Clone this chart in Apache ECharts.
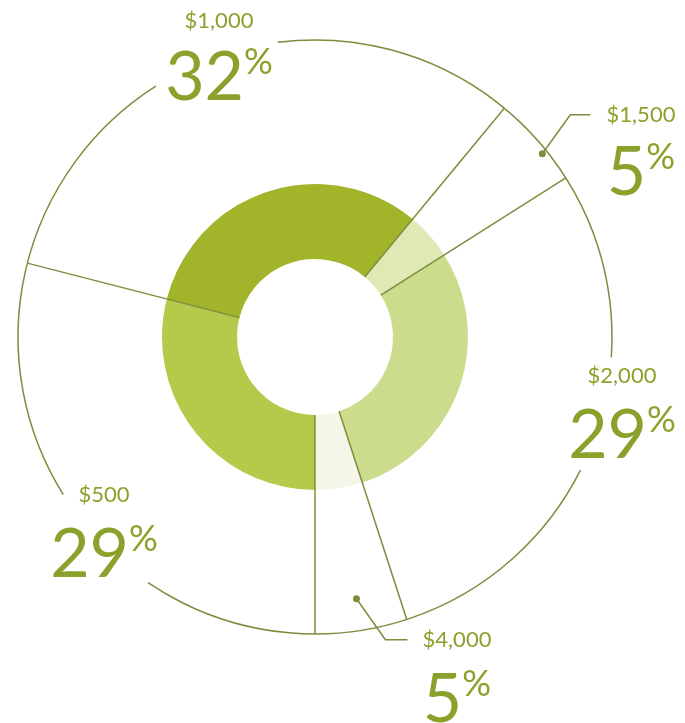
<!DOCTYPE html>
<html><head><meta charset="utf-8">
<script src="https://cdn.jsdelivr.net/npm/echarts@6/dist/echarts.min.js"></script>
<style>html,body{margin:0;padding:0;background:#fff}#c{width:685px;height:723px}</style>
</head><body><div id="c"></div>
<script>
// ---- data ----
const categories = ['$500', '$1,000', '$1,500', '$2,000', '$4,000'];
const shares = [29, 32, 5, 29, 5];

// ---- styles / layout ----
const sliceColors = ['#b5c94b', '#a2b52a', '#dfe9b5', '#cbdc8c', '#f6f6e8'];
const TEXT = '#8aa22c', LINE = '#7f8c3d';
const FONT = 'Lato, "Noto Sans", sans-serif';
const CENTER = [315, 337];
const R_IN = 78, R_OUT = 153, R_RING = 297;
// visible pieces of the outer ring, in angle-axis units (0..100 from bottom, clockwise)
const ringArcs = [[16.1, 41.0], [48.0, 76.1], [82.4, 9.5]];
// label anchor: centre x, top of the small name, top of the big figure
const labelPos = [[104, 484, 521], [219, 10, 44], [641, 104, 139], [622, 365, 402], [457, 629, 666]];
// leader lines for the thin slices: dot radius, angle nudge, elbow offset, horizontal run
const leaders = [null, null, { r: 292, da: 0.7, dx: 28, dy: -39, h: 20 }, null, { r: 265, da: 0, dx: 29, dy: 41, h: 22 }];

const cum = [];
shares.reduce((s, v) => { cum.push(s); return s + v; }, 0);

const chart = echarts.init(document.getElementById('c'), null, { renderer: 'canvas' });

const graphics = [];
categories.forEach((name, i) => {
  const [cx, ny, vy] = labelPos[i];
  graphics.push({
    type: 'text', x: cx, y: ny, silent: true,
    style: { text: name, fill: TEXT, fontSize: 22, fontFamily: FONT, align: 'center', verticalAlign: 'top' }
  });
  graphics.push({
    type: 'text', x: cx, y: vy, silent: true,
    style: {
      text: '{v|' + shares[i] + '}{p|%}', align: 'center', verticalAlign: 'top',
      rich: {
        v: { fontSize: 68, fontFamily: FONT, fill: TEXT, lineHeight: 68 },
        p: { fontSize: 36, fontFamily: FONT, fill: TEXT, lineHeight: 36, verticalAlign: 'top' }
      }
    }
  });
});

chart.setOption({
  animation: false,
  backgroundColor: '#fff',
  polar: { center: CENTER, radius: [0, R_RING] },
  angleAxis: { type: 'value', min: 0, max: 100, startAngle: -90, clockwise: true, show: false,
    axisLine: { show: false }, splitLine: { show: false }, axisLabel: { show: false }, axisTick: { show: false } },
  radiusAxis: { type: 'value', min: 0, max: R_RING, show: false,
    axisLine: { show: false }, splitLine: { show: false }, axisLabel: { show: false }, axisTick: { show: false } },
  graphic: graphics,
  series: [
    {
      type: 'pie', center: CENTER, radius: [R_IN, R_OUT], startAngle: -90, clockwise: true,
      silent: true, label: { show: false }, labelLine: { show: false },
      itemStyle: { borderWidth: 0 },
      data: categories.map((n, i) => ({ name: n, value: shares[i], itemStyle: { color: sliceColors[i] } }))
    },
    {
      type: 'custom', coordinateSystem: 'polar', silent: true, z: 5,
      data: ringArcs.map(a => [R_RING, a[0], a[1]]),
      renderItem: function (params, api) {
        const cs = params.coordSys;
        const p0 = api.coord([api.value(0), api.value(1)]);
        const p1 = api.coord([api.value(0), api.value(2)]);
        return {
          type: 'arc',
          shape: { cx: cs.cx, cy: cs.cy, r: Math.hypot(p0[0] - cs.cx, p0[1] - cs.cy),
            startAngle: Math.atan2(p0[1] - cs.cy, p0[0] - cs.cx),
            endAngle: Math.atan2(p1[1] - cs.cy, p1[0] - cs.cx), clockwise: true },
          style: { stroke: LINE, fill: null, lineWidth: 1.5 }
        };
      }
    },
    {
      type: 'custom', coordinateSystem: 'polar', silent: true, z: 5,
      data: cum.map(c => [R_RING, c]),
      renderItem: function (params, api) {
        const a = api.coord([R_IN, api.value(1)]);
        const b = api.coord([api.value(0), api.value(1)]);
        return { type: 'line', shape: { x1: a[0], y1: a[1], x2: b[0], y2: b[1] },
          style: { stroke: LINE, lineWidth: 1.5 } };
      }
    },
    {
      type: 'custom', coordinateSystem: 'polar', silent: true, z: 6,
      data: categories.map((n, i) => leaders[i] ? [leaders[i].r, cum[i] + shares[i] / 2 + leaders[i].da, i] : null).filter(Boolean),
      renderItem: function (params, api) {
        const L = leaders[api.value(2)];
        const p = api.coord([api.value(0), api.value(1)]);
        const e = [p[0] + L.dx, p[1] + L.dy];
        return { type: 'group', children: [
          { type: 'polyline', shape: { points: [p, e, [e[0] + L.h, e[1]]] }, style: { stroke: LINE, fill: null, lineWidth: 1.5 } },
          { type: 'circle', shape: { cx: p[0], cy: p[1], r: 3.5 }, style: { fill: LINE } }
        ] };
      }
    }
  ]
});
</script></body></html>
